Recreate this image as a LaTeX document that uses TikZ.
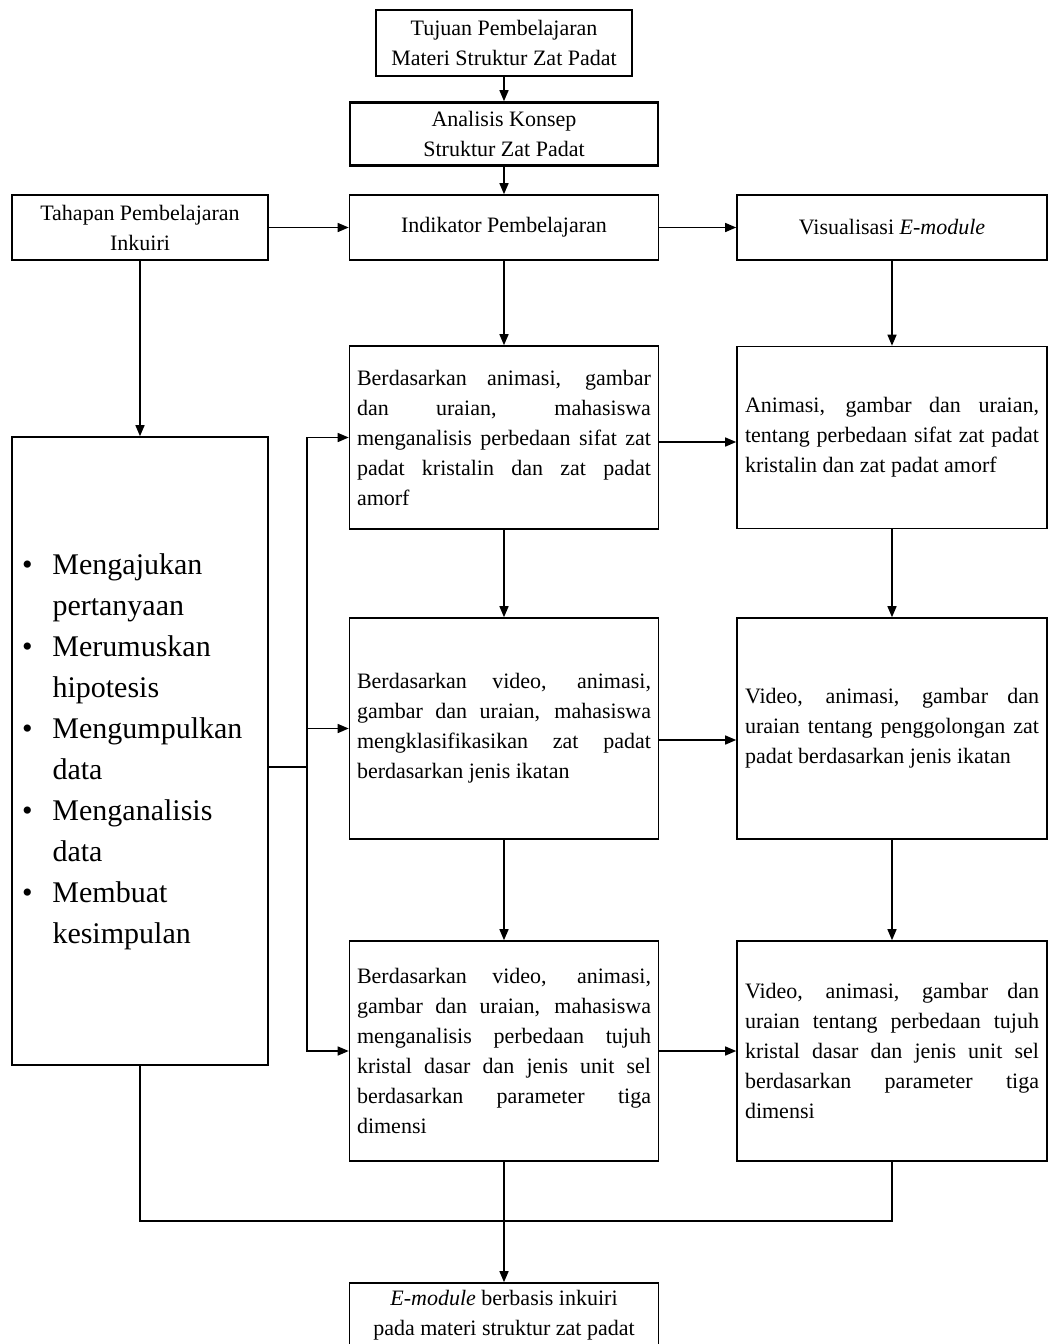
\documentclass[tikz,border=0pt]{standalone}
\usepackage{fontspec}
\setmainfont{Liberation Serif}
\usetikzlibrary{arrows.meta,calc}
\tikzset{
  box/.style={draw, line width=1.6pt, inner sep=0pt, font=\fontsize{22}{30}\selectfont, align=center},
  para/.style={box, text width=294pt, minimum width=309pt, align=justify,
    execute at begin node={\tolerance=10000\hyphenpenalty=10000\exhyphenpenalty=10000}},
  conn/.style={line width=1.4pt},
  arr/.style={conn, -{Triangle[length=11pt,width=9pt]}},
}
\begin{document}
\begin{tikzpicture}[x=1pt,y=-1pt]
\useasboundingbox (0,0) rectangle (1049,1344);
\clip (0,0) rectangle (1049,1344);
\fill[white] (0,0) rectangle (1049,1344);

\node[box, minimum width=256pt, minimum height=66pt] (tujuan) at (504,43) {Tujuan Pembelajaran\\Materi Struktur Zat Padat};
\node[box, line width=2.6pt, minimum width=308pt, minimum height=63pt] (analisis) at (504,134) {Analisis Konsep\\Struktur Zat Padat};
\node[box, minimum width=256pt, minimum height=65pt] (tahapan) at (140,227.5) {Tahapan Pembelajaran\\Inkuiri};
\node[box, minimum width=309pt, minimum height=65pt] (indikator) at (504,227.5) {Indikator Pembelajaran};
\node[box, minimum width=310pt, minimum height=65pt] (visual) at (892,227.5) {Visualisasi \textit{E-module}};

\node[box, minimum width=256pt, minimum height=628pt, text width=236pt, align=left, font=\fontsize{30}{41}\selectfont] (tahap) at (140,751) {%
\begin{tabular}{@{}l@{\hspace{20pt}}l@{}}
\textbullet & Mengajukan\\
 & pertanyaan\\
\textbullet & Merumuskan\\
 & hipotesis\\
\textbullet & Mengumpulkan\\
 & data\\
\textbullet & Menganalisis\\
 & data\\
\textbullet & Membuat\\
 & kesimpulan
\end{tabular}};

\node[para, minimum height=183pt] (m1) at (504,437.5) {Berdasarkan animasi, gambar\linebreak dan uraian, mahasiswa\linebreak menganalisis perbedaan sifat zat\linebreak padat kristalin dan zat padat\linebreak amorf};
\node[para, minimum width=310pt, minimum height=182pt] (r1) at (892,437.5) {Animasi, gambar dan uraian,\linebreak tentang perbedaan sifat zat padat\linebreak kristalin dan zat padat amorf};

\node[para, minimum height=221pt] (m2) at (504,728.5) {Berdasarkan video, animasi,\linebreak gambar dan uraian, mahasiswa\linebreak mengklasifikasikan zat padat\linebreak berdasarkan jenis ikatan};
\node[para, minimum width=310pt, minimum height=221pt] (r2) at (892,728.5) {Video, animasi, gambar dan\linebreak uraian tentang penggolongan zat\linebreak padat berdasarkan jenis ikatan};

\node[para, minimum height=220pt] (m3) at (504,1051) {Berdasarkan video, animasi,\linebreak gambar dan uraian, mahasiswa\linebreak menganalisis perbedaan tujuh\linebreak kristal dasar dan jenis unit sel\linebreak berdasarkan parameter tiga\linebreak dimensi};
\node[para, minimum width=310pt, minimum height=220pt] (r3) at (892,1051) {Video, animasi, gambar dan\linebreak uraian tentang perbedaan tujuh\linebreak kristal dasar dan jenis unit sel\linebreak berdasarkan parameter tiga\linebreak dimensi};

\node[box, minimum width=309pt, minimum height=64pt] (bot) at (504,1315) {\textit{E-module} berbasis inkuiri\\pada materi struktur zat padat};

% connectors
\draw[arr] (tujuan.south) -- (analisis.north);
\draw[arr] (analisis.south) -- (indikator.north);
\draw[arr] (tahapan.east) -- (indikator.west);
\draw[arr] (indikator.east) -- (visual.west);
\draw[arr] (indikator.south) -- (m1.north);
\draw[arr] (visual.south) -- (r1.north);
\draw[arr] (m1.south) -- (m2.north);
\draw[arr] (m2.south) -- (m3.north);
\draw[arr] (r1.south) -- (r2.north);
\draw[arr] (r2.south) -- (r3.north);
\draw[arr] ($(m1.east)+(0,4.5)$) -- ($(r1.west)+(0,4.5)$);
\draw[arr] ($(m2.east)+(0,11.5)$) -- ($(r2.west)+(0,11.5)$);
\draw[arr] (m3.east) -- (r3.west);
\draw[arr] (tahapan.south) -- (tahap.north);

\coordinate (bus) at (307,767);
\draw[conn] (tahap.east |- bus) -- (bus);
\draw[arr] (bus) |- (m1.west);
\draw[arr] (bus) |- (m3.west);
\draw[arr] (bus |- m2.west) -- (m2.west);

\coordinate (merge) at (504,1221);
\draw[conn] (tahap.south) |- (merge) -| (r3.south);
\draw[arr] (m3.south) -- (bot.north);
\end{tikzpicture}
\end{document}
